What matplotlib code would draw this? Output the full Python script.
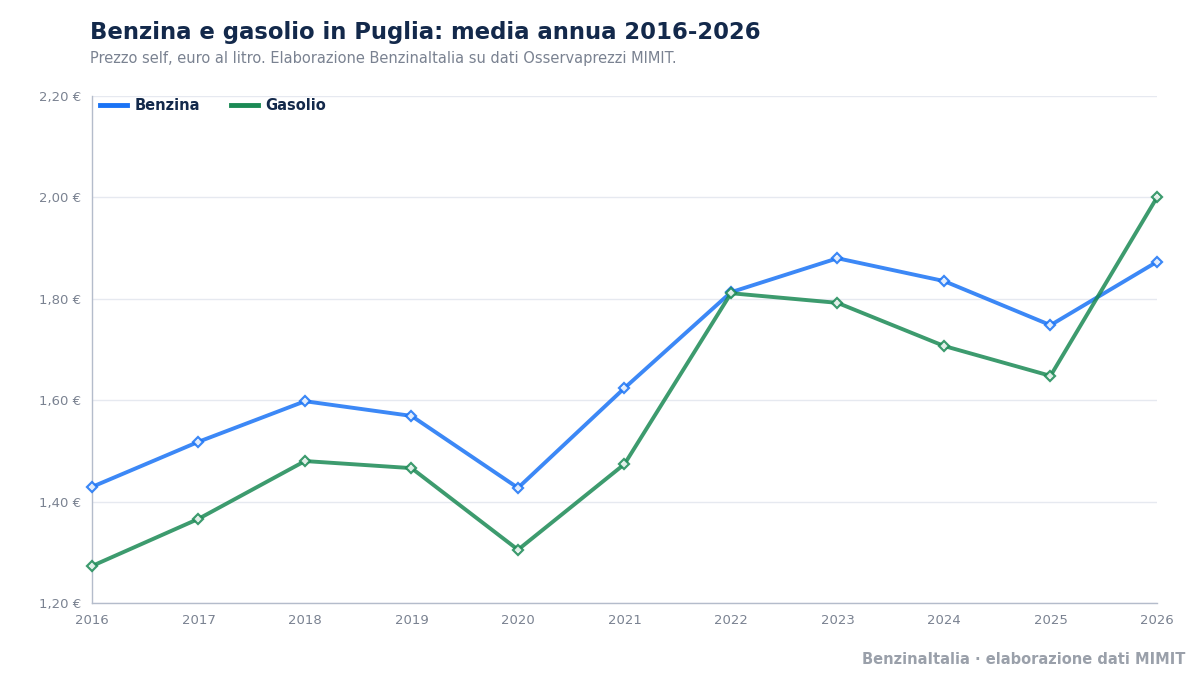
import matplotlib
matplotlib.use("Agg")
import matplotlib.pyplot as plt
from matplotlib.ticker import FuncFormatter, MultipleLocator

years = [2016, 2017, 2018, 2019, 2020, 2021, 2022, 2023, 2024, 2025, 2026]
benzina = [1.429, 1.518, 1.598, 1.569, 1.427, 1.624, 1.813, 1.880, 1.835, 1.748, 1.873]
gasolio = [1.273, 1.366, 1.480, 1.466, 1.305, 1.474, 1.811, 1.792, 1.707, 1.648, 2.000]

title = "Benzina e gasolio in Puglia: media annua 2016-2026"
subtitle = "Prezzo self, euro al litro. Elaborazione BenzinaItalia su dati Osservaprezzi MIMIT."
footer = "BenzinaItalia · elaborazione dati MIMIT"

plt.rcParams['font.family'] = ['DejaVu Sans']

fig = plt.figure(figsize=(12, 6.8), dpi=100)
ax = fig.add_axes([92/1200, 1-603/680, (1157-92)/1200, (603-96)/680])

blue = "#1a73f5"
green = "#1b8a55"

ax.plot(years, benzina, color=blue, lw=2.8, alpha=0.85, label="Benzina", zorder=3, clip_on=False,
        marker="D", markersize=5, markerfacecolor="white", markeredgecolor=blue, markeredgewidth=1.6)
ax.plot(years, gasolio, color=green, lw=2.8, alpha=0.85, label="Gasolio", zorder=3, clip_on=False,
        marker="D", markersize=5, markerfacecolor="white", markeredgecolor=green, markeredgewidth=1.6)

ax.set_xlim(2016, 2026)
ax.set_ylim(1.2, 2.2)
ax.yaxis.set_major_locator(MultipleLocator(0.2))
ax.set_xticks(years)
ax.yaxis.set_major_formatter(FuncFormatter(lambda v, p: f"{v:.2f} €".replace(".", ",")))
ax.grid(axis="y", color="#e6e9f0", lw=1)
ax.set_axisbelow(True)
for s in ["top", "right"]:
    ax.spines[s].set_visible(False)
for s in ["left", "bottom"]:
    ax.spines[s].set_color("#b4bccb")
    ax.spines[s].set_linewidth(1)
ax.tick_params(length=0, colors="#7a8291", labelsize=9.5, pad=8)

leg = ax.legend(loc="upper left", bbox_to_anchor=(-0.002, 1.016), ncol=2, frameon=False,
                prop={"weight": "bold", "size": 10.5}, handlelength=1.85, columnspacing=2.15,
                handletextpad=0.5, borderaxespad=0.3)
for t in leg.get_texts():
    t.set_color("#13294b")
for h in leg.get_lines():
    h.set_linewidth(3.5)
    h.set_alpha(1)
    h.set_marker("")

fig.text(90/1200, 1-32/680, title, fontsize=16.4, fontweight="bold", color="#13294b", va="center", ha="left")
fig.text(90/1200, 1-58/680, subtitle, fontsize=10.5, color="#7a8291", va="center", ha="left")
fig.text(1185/1200, 1-660/680, footer, fontsize=10.5, fontweight="bold", color="#9aa0aa", va="center", ha="right")

fig.savefig("out.png", dpi=100)
